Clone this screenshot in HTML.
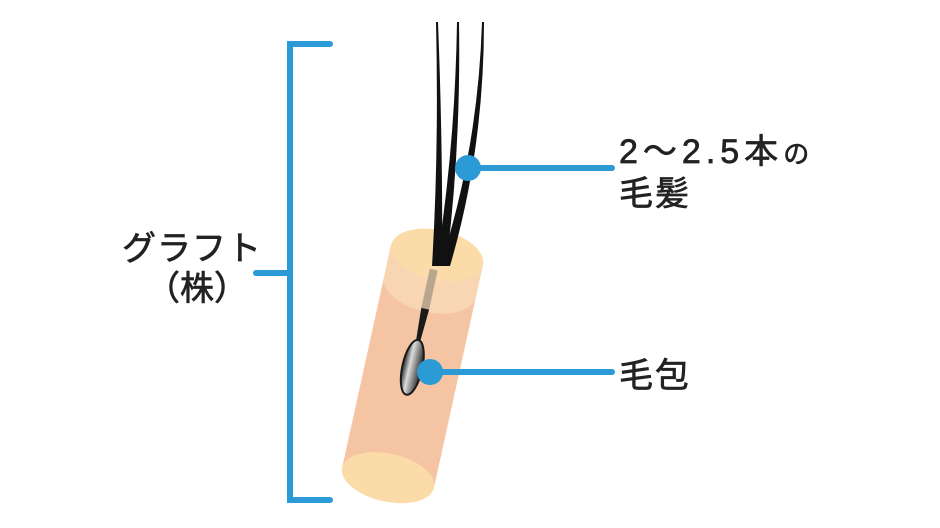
<!DOCTYPE html>
<html><head><meta charset="utf-8"><style>
html,body{margin:0;padding:0;background:#fff;}
svg{display:block}
text{font-family:"Liberation Sans","Noto Sans CJK JP",sans-serif;fill:#222;font-size:34px;stroke:#222;stroke-width:0.7px;}
</style></head><body>
<svg width="940" height="528" viewBox="0 0 940 528">
<defs>
<linearGradient id="bulb" x1="0" y1="0" x2="1" y2="0">
<stop offset="0" stop-color="#222"/><stop offset="0.35" stop-color="#ddd"/><stop offset="1" stop-color="#222"/>
</linearGradient>
</defs>
<g stroke="#2b9ad5" stroke-width="6" stroke-linecap="round" fill="none">
<path d="M330 44 H290 V500 H330"/>
<path d="M256 273 H290"/>
</g>
<g transform="rotate(12.4 437 255)">
<rect x="390" y="255" width="94" height="228" fill="#f5c4a3"/>
<path d="M390 255 V288 A47 25 0 0 0 484 288 V255 Z" fill="#f8d5b3"/>
<ellipse cx="437" cy="483" rx="47" ry="24" fill="#fbdca8"/>
<ellipse cx="437" cy="255" rx="47" ry="25" fill="#fbdca8"/>
<rect x="433" y="270" width="8" height="40" fill="#b9a68e"/>
<path d="M433 310 L441 310 L439 345 L435 345 Z" fill="#1a1a1a"/>
<ellipse cx="437" cy="370" rx="10" ry="28" fill="url(#bulb)" stroke="#1a1a1a" stroke-width="2"/>
</g>
<g fill="#111">
<path d="M436 22 Q439 150 432 266 L442 266 Q443 150 438 22 Z"/>
<path d="M457 22 Q455 150 436 266 L446 266 Q461 150 459 22 Z"/>
<path d="M482 22 Q478 150 440 266 L450 266 Q484 150 484 22 Z"/>
</g>
<g stroke="#2b9ad5" stroke-width="6" stroke-linecap="round">
<line x1="468" y1="168" x2="612" y2="168"/>
<line x1="430" y1="372" x2="612" y2="372"/>
</g>
<circle cx="468" cy="168" r="13" fill="#2b9ad5"/>
<circle cx="430" cy="372" r="13" fill="#2b9ad5"/>
<text x="122" y="260" letter-spacing="1">グラフト</text>
<text x="146" y="300">（株）</text>
<text x="619" y="163" letter-spacing="5">2〜2.5本<tspan font-size="26">の</tspan></text>
<text x="619" y="205" letter-spacing="2">毛髪</text>
<text x="619" y="387" letter-spacing="2">毛包</text>
</svg>
</body></html>
